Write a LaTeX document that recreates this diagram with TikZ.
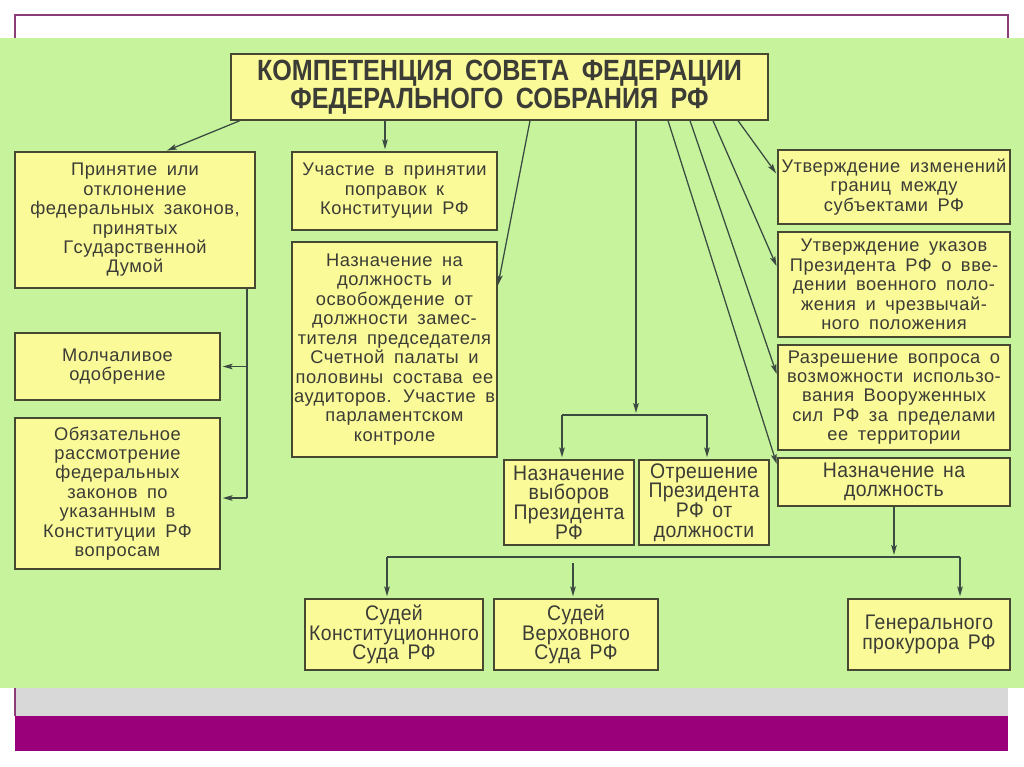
\documentclass[tikz,border=0pt]{standalone}
\usepackage{fontspec}
\setmainfont{Liberation Sans}[WordSpace=1.7,LetterSpace=3]
\newfontfamily\titlefont{Liberation Sans}[FakeStretch=0.86,WordSpace=1.8]
\newfontfamily\narrowfont{Liberation Sans}[FakeStretch=0.92,WordSpace=1.5,LetterSpace=2]
\usetikzlibrary{arrows.meta,calc}
\definecolor{bggreen}{RGB}{198,243,156}
\definecolor{boxyellow}{RGB}{250,250,152}
\definecolor{boxline}{RGB}{70,72,50}
\definecolor{txt}{RGB}{60,60,55}
\definecolor{conn}{RGB}{60,75,65}
\definecolor{purp}{RGB}{153,0,122}
\definecolor{bandgrey}{RGB}{216,216,216}
\definecolor{framecol}{RGB}{140,60,120}
\tikzset{
  box/.style={draw=boxline, fill=boxyellow, line width=0.9pt, text=txt, align=center,
    inner sep=0pt, font=\fontsize{13}{13.8}\selectfont},
  nbox/.style={font=\narrowfont\fontsize{15}{13.9}\selectfont},
  tbox/.style={font=\titlefont\bfseries\fontsize{20.8}{18.5}\selectfont},
  conline/.style={draw=conn, line width=0.9pt},
  arr/.style={conline, -{Stealth[length=7pt,width=4pt,inset=1.5pt]}, shorten >=1.5pt}
}
\newcommand\mkbox[7][]{%
  \pgfmathsetmacro\mybw{(#5-#3)*0.025}%
  \pgfmathsetmacro\mybh{(#6-#4)*0.025}%
  \node[box,minimum width=\mybw cm,minimum height=\mybh cm,#1] (#2) at ({(#3+#5)/2},{(#4+#6)/2}) {#7};}
\begin{document}
\begin{tikzpicture}[x=0.025cm,y=-0.025cm]
\useasboundingbox (0,0) rectangle (1024,767);
\fill[white] (0,0) rectangle (1024,767);
\draw[framecol, line width=0.8pt] (15,38) -- (15,15) -- (1008,15) -- (1008,38);
\fill[bggreen] (0,38) rectangle (1024,688);
\fill[bandgrey] (15,688) rectangle (1008,716);
\fill[purp] (15,716) rectangle (1008,751);
\draw[framecol, line width=0.8pt] (15,688) -- (15,716);

\mkbox[tbox]{title}{231}{54}{768}{120}{КОМПЕТЕНЦИЯ СОВЕТА ФЕДЕРАЦИИ\\ФЕДЕРАЛЬНОГО СОБРАНИЯ РФ}
\mkbox{A}{15}{152}{255}{288}{Принятие или\\отклонение\\федеральных законов,\\принятых\\Гсударственной\\Думой}
\mkbox{mol}{15}{333}{220}{400}{Молчаливое\\одобрение}
\mkbox{obz}{15}{418}{220}{569}{Обязательное\\рассмотрение\\федеральных\\законов по\\указанным в\\Конституции РФ\\вопросам}
\mkbox{uch}{292}{152}{497}{230}{Участие в принятии\\поправок к\\Конституции РФ}
\mkbox{naz}{292}{242}{497}{457}{Назначение на\\должность и\\освобождение от\\должности замес-\\тителя председателя\\Счетной палаты и\\половины состава ее\\аудиторов. Участие в\\парламентском\\контроле}
\mkbox[nbox]{vyb}{504}{460}{634}{545}{Назначение\\выборов\\Президента\\РФ}
\mkbox[nbox]{otr}{639}{460}{769}{545}{Отрешение\\Президента\\РФ от\\должности}
\mkbox{ut1}{778}{150}{1010}{224}{Утверждение изменений\\границ между\\субъектами РФ}
\mkbox{ut2}{778}{232}{1010}{337}{Утверждение указов\\Президента РФ о вве-\\дении военного поло-\\жения и чрезвычай-\\ного положения}
\mkbox{raz}{778}{345}{1010}{450}{Разрешение вопроса о\\возможности использо-\\вания Вооруженных\\сил РФ за пределами\\ее территории}
\mkbox[nbox]{nzd}{778}{458}{1010}{506}{Назначение на\\должность}
\mkbox[nbox]{sks}{305}{599}{483}{670}{Судей\\Конституционного\\Суда РФ}
\mkbox[nbox]{svs}{494}{599}{658}{670}{Судей\\Верховного\\Суда РФ}
\mkbox[nbox]{gen}{848}{599}{1010}{670}{Генерального\\прокурора РФ}

% helper coordinates
\coordinate (vx) at (247,0);
\coordinate (j1) at (636,415);
\coordinate (j1l) at (562,415);
\coordinate (j1r) at (707,415);
\coordinate (j2l) at (387,557);
\coordinate (j2m) at (573,563);
\coordinate (j2r) at (960,557);

% connectors from title
\draw[arr] (title.south -| 240,0) -- (A.north -| 165,0);
\draw[arr] (title.south -| 385,0) -- (uch.north -| 385,0);
\draw[arr] (title.south -| 530,0) -- (naz.east |- 0,287);
\draw[arr] (title.south -| j1) -- (j1);
\draw[conline] (j1l) -- (j1r);
\draw[arr] (j1l) -- (vyb.north -| j1l);
\draw[arr] (j1r) -- (otr.north -| j1r);
\draw[arr] (title.south -| 738,0) -- (ut1.west |- 0,175);
\draw[arr] (title.south -| 713,0) -- (ut2.west |- 0,268);
\draw[arr] (title.south -| 690,0) -- (raz.west |- 0,376);
\draw[arr] (title.south -| 668,0) -- (nzd.west |- 0,466);

% left branch
\draw[conline] (A.south -| vx) -- (0,498 -| vx);
\draw[arr] (mol.east -| vx) -- (mol.east);
\draw[arr] (0,498 -| vx) -- (obz.east |- 0,498);

% bottom branch
\draw[arr] (nzd.south) -- (nzd.south |- j2l);
\draw[conline] (j2l) -- (j2r);
\draw[arr] (j2l) -- (sks.north -| j2l);
\draw[arr] (j2m) -- (svs.north -| j2m);
\draw[arr] (j2r) -- (gen.north -| j2r);
\end{tikzpicture}
\end{document}
